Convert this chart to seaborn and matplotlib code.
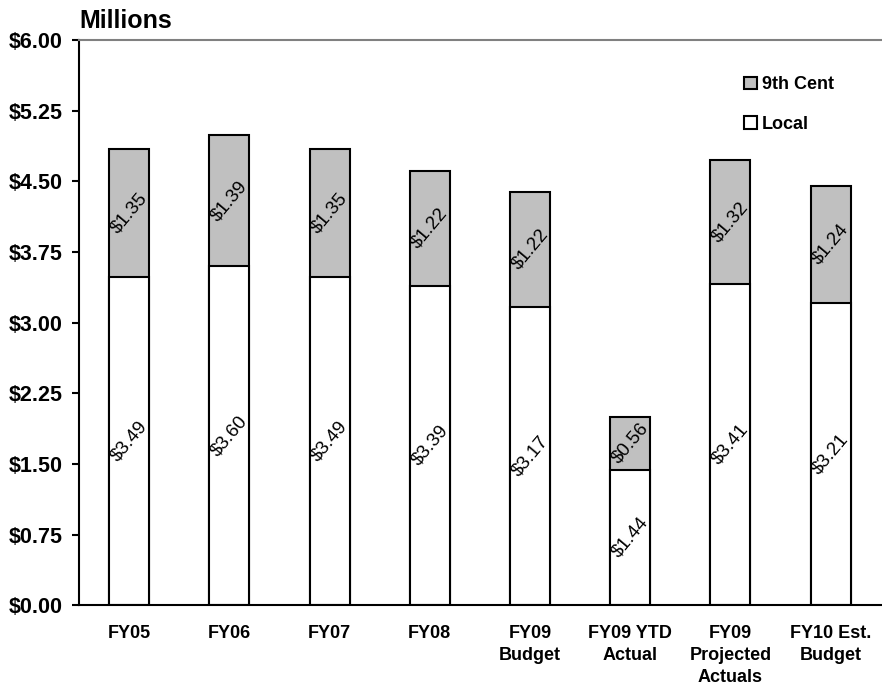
import numpy as np
import matplotlib.pyplot as plt
import pandas as pd
import seaborn as sns
from matplotlib.patches import Patch

categories = ["FY05", "FY06", "FY07", "FY08", "FY09\nBudget", "FY09 YTD\nActual",
              "FY09\nProjected\nActuals", "FY10 Est.\nBudget"]
local = [3.49, 3.60, 3.49, 3.39, 3.17, 1.44, 3.41, 3.21]
ninth_cent = [1.35, 1.39, 1.35, 1.22, 1.22, 0.56, 1.32, 1.24]

df = pd.DataFrame({"cat": categories, "local": local, "ninth": ninth_cent})
df["total"] = df["local"] + df["ninth"]

sns.set_style("white")
plt.rcParams["font.family"] = ["Liberation Sans", "DejaVu Sans"]
plt.rcParams["text.color"] = "black"
plt.rcParams["xtick.color"] = "black"
plt.rcParams["ytick.color"] = "black"

fig = plt.figure(figsize=(8.82, 6.94), dpi=100)
ax = fig.add_axes([0.0896, 0.128, 0.909, 0.814])

sns.barplot(data=df, x="cat", y="total", ax=ax, color="#C0C0C0", width=0.4,
            edgecolor="black", linewidth=1.5, saturation=1)
sns.barplot(data=df, x="cat", y="local", ax=ax, color="white", width=0.4,
            edgecolor="black", linewidth=1.5, saturation=1)

# segment labels
for i, (lv, nv) in enumerate(zip(local, ninth_cent)):
    ax.text(i, lv / 2, f"${lv:.2f}", rotation=50, ha="center", va="center",
            fontsize=13.5, color="black")
    ax.text(i, lv + nv / 2, f"${nv:.2f}", rotation=50, ha="center", va="center",
            fontsize=13.5, color="black")

ax.set_ylim(0, 6)
ax.set_xlim(-0.5, len(categories) - 0.5)
ax.set_yticks(np.arange(0, 6.01, 0.75))
ax.set_yticklabels([f"${v:.2f}" for v in np.arange(0, 6.01, 0.75)], fontsize=15.5, fontweight="bold")
ax.set_xticks(range(len(categories)))
ax.set_xticklabels(categories, fontsize=13, fontweight="bold", linespacing=1.4)
ax.set_xticks(np.arange(-0.5, len(categories), 1), minor=True)
ax.tick_params(axis="x", which="major", length=0, pad=14)
ax.tick_params(axis="x", which="minor", length=5, width=1.5, direction="out", color="black")
ax.tick_params(axis="y", length=5, width=1.5, direction="out", color="black", pad=7, left=True)
ax.set_xlabel("")
ax.set_ylabel("")

for s in ["left", "bottom"]:
    ax.spines[s].set_color("black")
    ax.spines[s].set_linewidth(1.5)
ax.spines["right"].set_visible(False)
ax.spines["top"].set_color("#808080")
ax.spines["top"].set_linewidth(1.5)

ax.text(0, 1.012, "Millions", transform=ax.transAxes, fontsize=18, fontweight="bold",
        ha="left", va="bottom", color="black")

handles = [Patch(facecolor="#C0C0C0", edgecolor="black", linewidth=1.5, label="9th Cent"),
           Patch(facecolor="white", edgecolor="black", linewidth=1.5, label="Local")]
leg = ax.legend(handles=handles, loc="upper right", bbox_to_anchor=(0.962, 0.965), frameon=False,
                handlelength=0.7, handleheight=0.7, handletextpad=0.3, labelspacing=1.25,
                prop={"weight": "bold", "size": 13})
for t in leg.get_texts():
    t.set_color("black")

fig.savefig("out.png", dpi=100)
